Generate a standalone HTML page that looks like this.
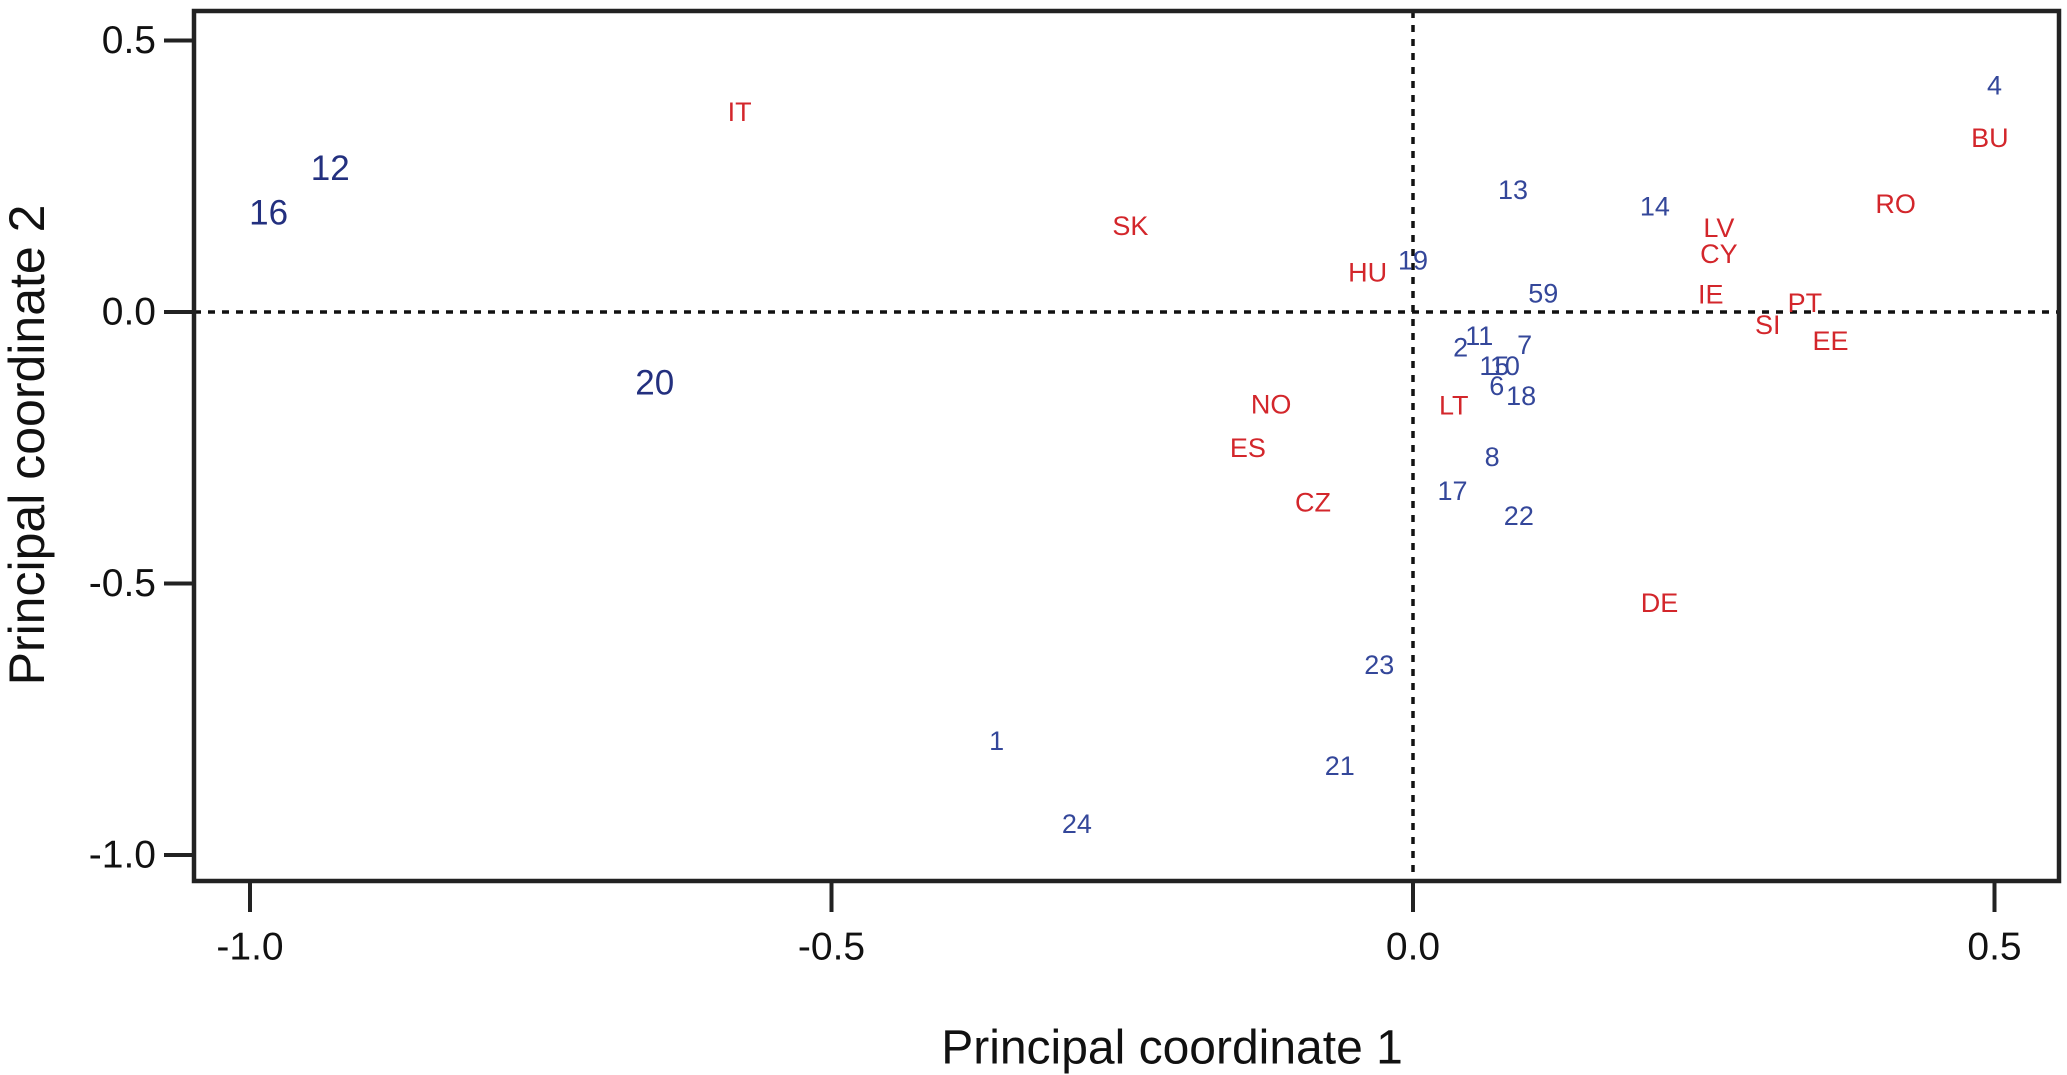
<!DOCTYPE html>
<html><head><meta charset="utf-8"><style>
html,body{margin:0;padding:0;background:#fff;}
svg{display:block;font-family:"Liberation Sans",Arial,sans-serif;}
</style></head><body>
<svg id="chart" width="2067" height="1075"></svg>
<script>
const blueLabels=["4","12","16","20","13","14","19","59","11","2","7","15","10","6","18","8","17","22","23","1","21","24"];
const blueX=[0.50,-0.931,-0.984,-0.652,0.086,0.208,0.0,0.112,0.057,0.041,0.096,0.070,0.079,0.072,0.093,0.068,0.034,0.091,-0.029,-0.358,-0.063,-0.289];
const blueY=[0.417,0.264,0.182,-0.131,0.225,0.194,0.095,0.034,-0.044,-0.065,-0.061,-0.099,-0.099,-0.136,-0.155,-0.267,-0.330,-0.376,-0.650,-0.790,-0.836,-0.943];
const blueBig=["12","16","20"];
const redLabels=["IT","SK","HU","NO","ES","CZ","LT","DE","LV","CY","IE","SI","PT","EE","RO","BU"];
const redX=[-0.579,-0.243,-0.039,-0.122,-0.142,-0.086,0.035,0.212,0.263,0.263,0.256,0.305,0.337,0.359,0.415,0.496];
const redY=[0.368,0.158,0.073,-0.170,-0.250,-0.351,-0.172,-0.536,0.155,0.107,0.032,-0.024,0.017,-0.053,0.199,0.320];
const xTicks=[-1.0,-0.5,0.0,0.5];
const yTicks=[0.5,0.0,-0.5,-1.0];

const NS="http://www.w3.org/2000/svg";
const svg=document.getElementById('chart');
const L=194,R=2059,T=11,B=881;
function sx(v){return 1413+v*1163;}
function sy(v){return 312-v*543;}
function mk(tag,attrs,parent){const e=document.createElementNS(NS,tag);for(const k in attrs)e.setAttribute(k,attrs[k]);(parent||svg).appendChild(e);return e;}

const hz=mk('line',{x1:L,x2:R,y1:sy(0),y2:sy(0),stroke:'#111','stroke-width':3.5,'stroke-dasharray':'7,7'});


const vz=mk('line',{x1:sx(0),x2:sx(0),y1:T,y2:B,stroke:'#111','stroke-width':3.5,'stroke-dasharray':'7,7'});



const box=mk('rect',{x:L,y:T,width:R-L,height:B-T,fill:'none',stroke:'#222','stroke-width':4.5});



xTicks.forEach(v=>{
  const t=mk('line',{x1:sx(v),x2:sx(v),y1:B,y2:912,stroke:'#222','stroke-width':4});
  
  
  const tx=mk('text',{x:sx(v),y:947,'font-size':39,'text-anchor':'middle','dominant-baseline':'central',fill:'#111'});
  tx.textContent=v.toFixed(1);
  
  
});
yTicks.forEach(v=>{
  const t=mk('line',{x1:164,x2:L,y1:sy(v),y2:sy(v),stroke:'#222','stroke-width':4});
  
  
  const tx=mk('text',{x:156,y:sy(v),'font-size':39,'text-anchor':'end','dominant-baseline':'central',fill:'#111'});
  tx.textContent=v.toFixed(1);
  
  
});

const xt=mk('text',{x:1172,y:1048,'font-size':48,'text-anchor':'middle','dominant-baseline':'central',fill:'#111'});
xt.textContent='Principal coordinate 1';


const yt=mk('text',{x:0,y:0,'font-size':50,'text-anchor':'middle','dominant-baseline':'central',fill:'#111',transform:'translate(27,445) rotate(-90)'});
yt.textContent='Principal coordinate 2';



blueLabels.forEach((lab,i)=>{
  const big=blueBig.includes(lab);
  const t=mk('text',{x:sx(blueX[i]),y:sy(blueY[i]),'font-size':big?35:27,'text-anchor':'middle','dominant-baseline':'central',fill:big?'#23307f':'#34479a'});
  t.textContent=lab;
  
  
});
redLabels.forEach((lab,i)=>{
  const t=mk('text',{x:sx(redX[i]),y:sy(redY[i]),'font-size':27,'text-anchor':'middle','dominant-baseline':'central',fill:'#d3262b'});
  t.textContent=lab;
  
  
});
</script>
</body></html>
